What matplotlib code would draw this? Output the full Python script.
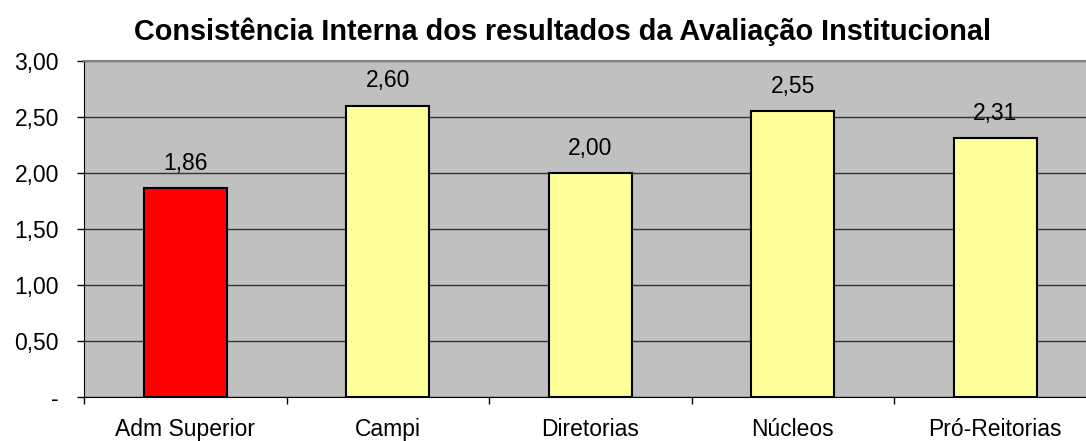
import matplotlib.pyplot as plt
from matplotlib.ticker import FuncFormatter

plt.rcParams['font.family'] = ['Liberation Sans', 'DejaVu Sans']

categorias = ['Adm Superior', 'Campi', 'Diretorias', 'Núcleos', 'Pró-Reitorias']
valores = [1.86, 2.60, 2.00, 2.55, 2.31]
cores = ['#FF0000', '#FFFF99', '#FFFF99', '#FFFF99', '#FFFF99']


def fmt_br(v, pos=None):
    if abs(v) < 1e-9:
        return '-'
    return f'{v:.2f}'.replace('.', ',')


fig = plt.figure(figsize=(10.86, 4.41), dpi=100)
ax = fig.add_axes([84 / 1086, 1 - 396.7 / 441, 1012.5 / 1086, 336 / 441])
ax.set_facecolor('#C0C0C0')

x = list(range(len(categorias)))
bars = ax.bar(x, valores, width=0.41, color=cores, edgecolor='black', linewidth=1.5, zorder=3)

for b, v in zip(bars, valores):
    ax.annotate(fmt_br(v), (b.get_x() + b.get_width() / 2, v), xytext=(0, 13),
                textcoords='offset points', ha='center', va='baseline', fontsize=16.5, zorder=4)

ax.set_xlim(-0.5, 4.5)
ax.set_ylim(0, 3)
ax.set_yticks([0, 0.5, 1, 1.5, 2, 2.5, 3])
ax.yaxis.set_major_formatter(FuncFormatter(fmt_br))
ax.yaxis.grid(True, color='#333333', linewidth=1, zorder=0)
ax.set_axisbelow(True)

# categorias como rótulos, marcas nos limites
ax.set_xticks(x)
ax.set_xticklabels(categorias, fontsize=16.5)
ax.tick_params(axis='x', length=0, pad=15)
ax.set_xticks([i - 0.5 for i in range(len(categorias) + 1)], minor=True)
ax.tick_params(axis='x', which='minor', length=5, width=1, color='black', direction='out')
ax.tick_params(axis='y', length=5, width=1, labelsize=16.5, pad=13, direction='out')

ax.spines['left'].set_color('black')
ax.spines['bottom'].set_color('black')
ax.spines['top'].set_color('#808080')
ax.spines['top'].set_linewidth(1.5)
ax.spines['right'].set_visible(False)

fig.text(562 / 1086, 1 - 32 / 441, 'Consistência Interna dos resultados da Avaliação Institucional',
         ha='center', va='center', fontsize=20.8, fontweight='bold')

fig.savefig('out.png', dpi=100)
